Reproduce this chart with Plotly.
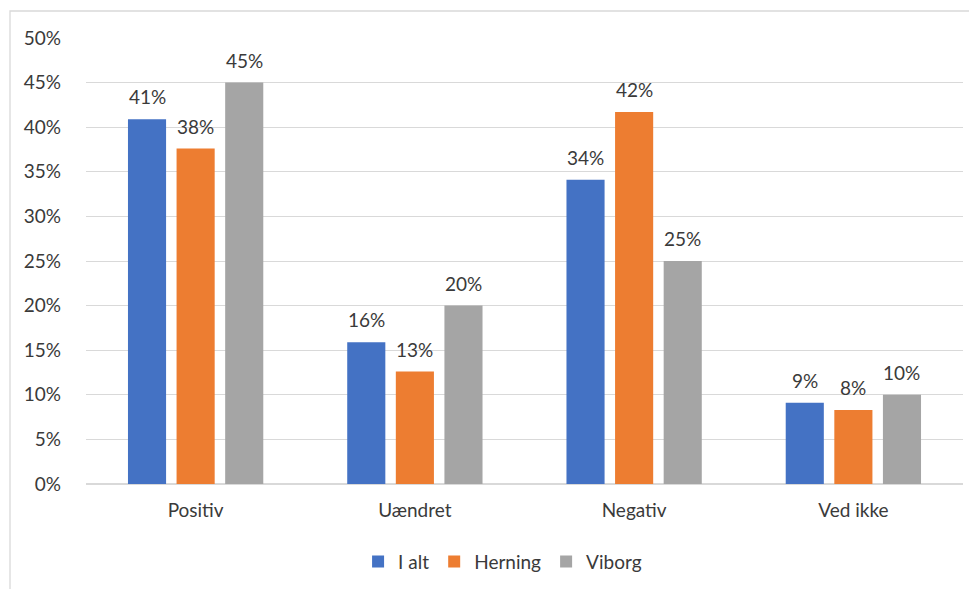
import plotly.graph_objects as go

categories = ["Positiv", "Uændret", "Negativ", "Ved ikke"]
i_alt = [0.409, 0.159, 0.341, 0.091]
herning = [0.376, 0.126, 0.417, 0.083]
viborg = [0.45, 0.20, 0.25, 0.10]

series = [
    ("I alt", i_alt, "#4472C4"),
    ("Herning", herning, "#ED7D31"),
    ("Viborg", viborg, "#A5A5A5"),
]

font = "Lato, 'Open Sans', sans-serif"
txt = "#3A3A3A"
fsize = 19

# page body has an 8px margin, so the figure is drawn 8px in and 8px down
W, H = 969, 581
ml, mr, mt, mb = 78, 14, 30, 105
bargap = 0.335
plot_w = W - ml - mr
plot_h = H - mt - mb
slot = plot_w / len(categories) * (1 - bargap) / len(series)

fig = go.Figure()
annotations = []
for i, (name, vals, col) in enumerate(series):
    fig.add_trace(
        go.Bar(
            name=name,
            x=categories,
            y=vals,
            marker=dict(color=col, line=dict(width=0)),
        )
    )
    for cat, v in zip(categories, vals):
        annotations.append(
            dict(
                x=cat,
                y=v,
                text=f"{v:.0%}",
                showarrow=False,
                yanchor="bottom",
                xshift=(i - 1) * slot,
                yshift=9,
                font=dict(family=font, size=fsize, color=txt),
            )
        )

fig.update_layout(
    width=W,
    height=H,
    paper_bgcolor="white",
    plot_bgcolor="white",
    barmode="group",
    bargap=bargap,
    bargroupgap=0.216,
    margin=dict(l=ml, r=mr, t=mt, b=mb, autoexpand=False),
    font=dict(family=font, size=fsize, color=txt),
    showlegend=True,
    legend=dict(
        orientation="h",
        x=0.475,
        xanchor="center",
        y=-0.174,
        yanchor="middle",
        font=dict(family=font, size=fsize, color=txt),
        itemwidth=30,
        traceorder="normal",
    ),
    xaxis=dict(
        automargin=False,
        showgrid=False,
        showline=False,
        ticks="",
        tickfont=dict(family=font, size=fsize, color=txt),
        ticklabelstandoff=13,
    ),
    yaxis=dict(
        automargin=False,
        range=[0, 0.5],
        dtick=0.05,
        tickformat=".0%",
        showgrid=True,
        gridcolor="#D9D9D9",
        gridwidth=1.3,
        zeroline=True,
        zerolinecolor="#D9D9D9",
        zerolinewidth=1.5,
        showline=False,
        ticks="",
        tickfont=dict(family=font, size=fsize, color=txt),
        ticklabelstandoff=24,
    ),
    annotations=annotations,
    shapes=[
        dict(
            type="rect",
            xref="paper",
            yref="paper",
            x0=(10 - 86) / plot_w,
            x1=1.2,
            y0=-0.4,
            y1=(484 - 11) / plot_h,
            line=dict(color="#D9D9D9", width=1.3),
            fillcolor="rgba(0,0,0,0)",
            layer="below",
        )
    ],
)

fig.write_html("out.html")
